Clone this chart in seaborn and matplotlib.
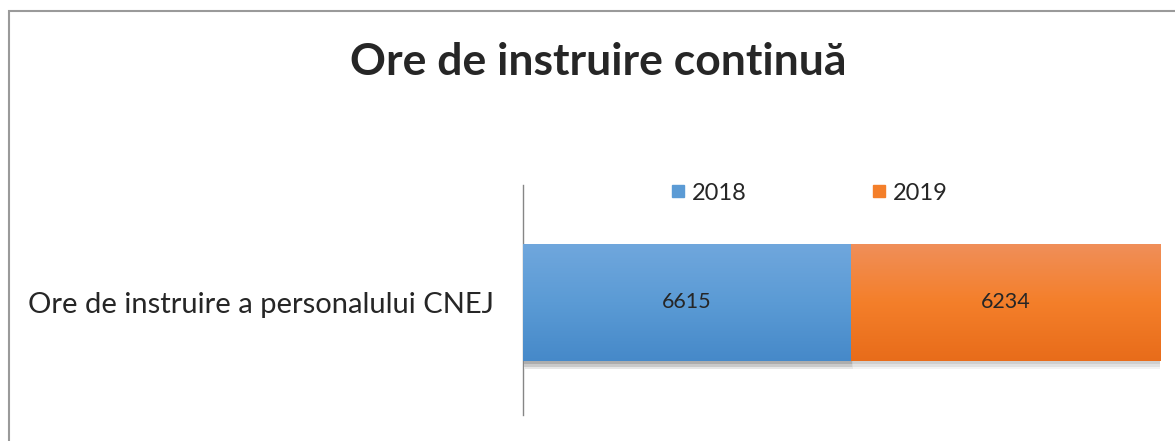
import numpy as np
import pandas as pd
import matplotlib
matplotlib.use("Agg")
import matplotlib.pyplot as plt
import matplotlib.patheffects as pe
from matplotlib.lines import Line2D
from matplotlib.patches import Rectangle
from matplotlib.colors import LinearSegmentedColormap
import seaborn as sns

# data
category = ["Ore de instruire a personalului CNEJ"]
years = ["2018", "2019"]
hours_2018 = [6615]
hours_2019 = [6234]

sns.set_style("white")
plt.rcParams['font.family'] = ['Lato', 'DejaVu Sans']

df = pd.DataFrame({"cat": category, "y2018": hours_2018, "y2019": hours_2019})
df["total"] = df["y2018"] + df["y2019"]

fig = plt.figure(figsize=(11.75, 4.41), dpi=100)
ax = fig.add_axes([523 / 1175, 1 - 415 / 441, (1160 - 523) / 1175, 230 / 441])

# soft drop shadow under the bar
shadow = [pe.SimplePatchShadow(offset=(0.5, -2), shadow_rgbFace="#666666", alpha=0.15),
          pe.SimplePatchShadow(offset=(1, -4), shadow_rgbFace="#666666", alpha=0.12),
          pe.SimplePatchShadow(offset=(1.5, -6), shadow_rgbFace="#666666", alpha=0.08),
          pe.Normal()]

# stacked bars: total first (2019 colour), then 2018 on top
sns.barplot(data=df, x="total", y="cat", orient="h", color="#f47f2a", width=0.51,
            saturation=1, ax=ax, zorder=2, linewidth=0)
sns.barplot(data=df, x="y2018", y="cat", orient="h", color="#5b9bd5", width=0.51,
            saturation=1, ax=ax, zorder=3, linewidth=0)

# vertical gradient on each segment
grads = [["#f08f5a", "#f47f2a", "#e86c1a"],
         ["#70a7dd", "#5b9bd5", "#4689c9"]]
starts = [hours_2018[0], 0]
grad = np.linspace(0, 1, 256).reshape(-1, 1)
for i, p in enumerate(ax.patches):
    p.set_path_effects(shadow)
    y0, h = p.get_y(), p.get_height()
    x0 = starts[i]
    x1 = p.get_x() + p.get_width()
    cmap = LinearSegmentedColormap.from_list("g%d" % i, grads[i])
    im = ax.imshow(grad, cmap=cmap, aspect="auto", extent=(x0, x1, y0 + h, y0),
                   origin="upper", zorder=5, interpolation="bilinear")
    im.set_clip_path(p)

ax.set_xlim(0, df["total"].iloc[0])
ax.set_ylim(0.49, -0.51)

# value labels
ax.text(hours_2018[0] / 2, 0, str(hours_2018[0]), ha="center", va="center", fontsize=15.5, zorder=10)
ax.text(hours_2018[0] + hours_2019[0] / 2, 0, str(hours_2019[0]), ha="center", va="center",
        fontsize=15.5, zorder=10)

ax.set_xlabel("")
ax.set_ylabel("")
ax.set_xticks([])
ax.tick_params(axis="y", length=0, pad=21, labelsize=21)
for s in ["top", "right", "bottom"]:
    ax.spines[s].set_visible(False)
ax.spines["left"].set_color("#868686")
ax.spines["left"].set_linewidth(1)

handles = [Line2D([], [], marker="s", linestyle="", markersize=9, color="#5b9bd5"),
           Line2D([], [], marker="s", linestyle="", markersize=9, color="#f47f2a")]
fig.legend(handles, years, loc="center", bbox_to_anchor=(808 / 1175, 1 - 193 / 441), ncol=2,
           frameon=False, fontsize=17, handletextpad=0.2, columnspacing=5.2, handlelength=0.8)

fig.suptitle("Ore de instruire continuă", x=598 / 1175, y=1 - 62 / 441, va="center",
             fontsize=32, fontweight="bold")

fig.patches.append(Rectangle((8.5 / 1175, -0.1), 1.2, 1 - 11 / 441 + 0.1, transform=fig.transFigure,
                             fill=False, edgecolor="#9a9a9a", linewidth=1.5))

fig.savefig("out.png", dpi=100)
